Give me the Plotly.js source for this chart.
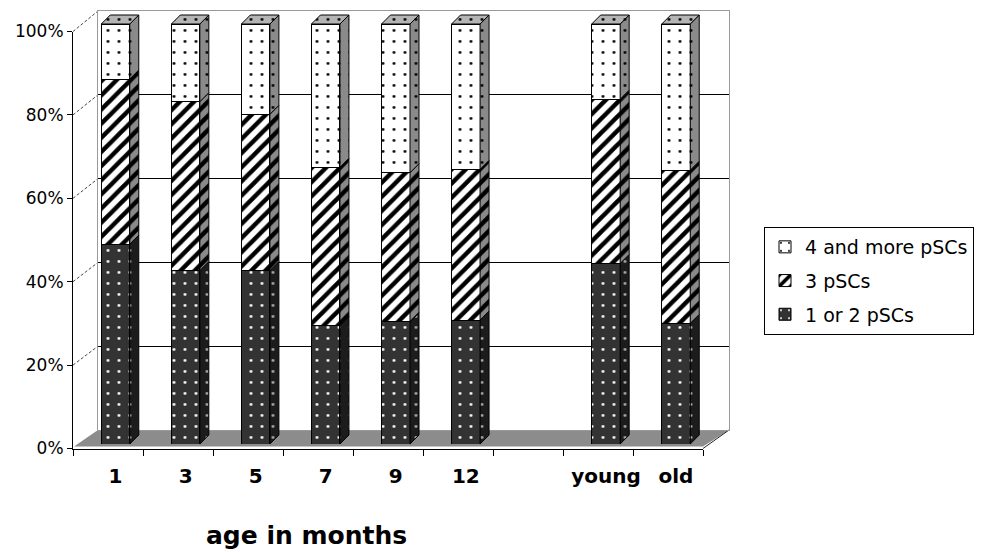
<!DOCTYPE html>
<html>
<head>
<meta charset="utf-8">
<script src="https://cdn.plot.ly/plotly-3.0.1.min.js"></script>
<style>
  html, body { margin: 0; padding: 0; background: #fff; }
  #chart { width: 983px; height: 552px; }
</style>
</head>
<body>
<div id="chart"></div>
<script>
// ---- data -------------------------------------------------------------
const categories = ['1', '3', '5', '7', '9', '12', 'young', 'old'];
// axis slots along the category axis (one empty slot separates the age groups)
const slots = ['1', '3', '5', '7', '9', '12', '', 'young', 'old'];
const seriesNames = ['1 or 2 pSCs', '3 pSCs', '4 and more pSCs'];
const oneOrTwo = [47.6, 41.3, 41.3, 28.2, 29.1, 29.5, 43.0, 28.7];
const three    = [39.3, 40.2, 37.2, 37.7, 35.5, 35.9, 39.1, 36.5];
const fourPlus = [13.1, 18.5, 21.5, 34.1, 35.4, 34.6, 17.9, 34.8];
const yTickVals = [0, 20, 40, 60, 80, 100];
const yTickText = ['0%', '20%', '40%', '60%', '80%', '100%'];
const axisTitle = 'age in months';

// ---- geometry of the pseudo-3D box (pixels) ----------------------------
const W = 983, H = 552;
const fx = v => v / W;
const fy = v => 1 - v / H;
const front = { l: 73, r: 703, t: 31.5, b: 448.5 };   // front axes
const wall  = { l: 98, r: 729, t: 11,   b: 430 };     // back wall
const bars  = { l: 80.5, r: 711, t: 24, b: 444 };     // bar front faces (t = 100 %)
const depth = 9;                                      // bar depth in px
const yMax = 105;                                     // head room for the bar tops

const slotPx = (bars.r - bars.l) / slots.length;
const unitPx = (bars.b - bars.t) / 100;
const ddx = depth / slotPx;
const ddy = depth / unitPx;
const barW = 0.407;

const pos = categories.map(c => slots.indexOf(c));

const FONT = 'DejaVu Sans, Verdana, Arial, sans-serif';

// ---- bar traces ---------------------------------------------------------
const dot = 0.05;
const styles = [
  { color: '#333333', pattern: { shape: '.', bgcolor: '#333333', fgcolor: '#ffffff', size: 11, solidity: dot, fillmode: 'replace' } },
  { color: '#ffffff', pattern: { shape: '/', bgcolor: '#ffffff', fgcolor: '#000000', size: 10, solidity: 0.45, fillmode: 'replace' } },
  { color: '#ffffff', pattern: { shape: '.', bgcolor: '#ffffff', fgcolor: '#000000', size: 11, solidity: dot, fillmode: 'replace' } }
];
const series = [oneOrTwo, three, fourPlus];

const traces = [];
// invisible anchors so the wall and front-axis subplots get drawn
traces.push({ type: 'scatter', x: [], y: [], xaxis: 'x', yaxis: 'y', showlegend: false, hoverinfo: 'skip' });
traces.push({ type: 'scatter', x: [], y: [], xaxis: 'x2', yaxis: 'y2', showlegend: false, hoverinfo: 'skip' });

series.forEach((vals, k) => {
  traces.push({
    type: 'bar', name: seriesNames[k], legendgroup: 'g' + k, legendrank: 10 - k,
    x: pos, y: vals, width: barW,
    xaxis: 'x3', yaxis: 'y3',
    marker: { color: styles[k].color, pattern: styles[k].pattern, line: { color: '#000', width: 1 } },
    hoverinfo: 'skip'
  });
});

// side faces of every stacked segment, and the top faces
const sideFill = [
  { fill: '#1c1c1c', pattern: { shape: '.', bgcolor: '#1c1c1c', fgcolor: '#aaaaaa', size: 11, solidity: dot } },
  { fill: '#8a8a8a', pattern: { shape: '/', bgcolor: '#8a8a8a', fgcolor: '#000000', size: 10, solidity: 0.45 } },
  { fill: '#8a8a8a', pattern: { shape: '.', bgcolor: '#8a8a8a', fgcolor: '#000000', size: 11, solidity: dot } }
];
series.forEach((vals, k) => {
  const xs = [], ys = [];
  vals.forEach((v, i) => {
    let base = 0;
    for (let j = 0; j < k; j++) base += series[j][i];
    const top = base + v;
    const xr = pos[i] + barW / 2;
    xs.push(xr, xr + ddx, xr + ddx, xr, xr, null);
    ys.push(base, base + ddy, top + ddy, top, base, null);
  });
  traces.push({
    type: 'scatter', mode: 'lines', x: xs, y: ys, xaxis: 'x3', yaxis: 'y3',
    fill: 'toself', fillcolor: sideFill[k].fill, fillpattern: sideFill[k].pattern,
    line: { color: '#000', width: 1 }, showlegend: false, hoverinfo: 'skip'
  });
});
{
  const xs = [], ys = [];
  pos.forEach((p, i) => {
    const total = oneOrTwo[i] + three[i] + fourPlus[i];
    const xl = p - barW / 2, xr = p + barW / 2;
    xs.push(xl, xl + ddx, xr + ddx, xr, xl, null);
    ys.push(total, total + ddy, total + ddy, total, total, null);
  });
  traces.push({
    type: 'scatter', mode: 'lines', x: xs, y: ys, xaxis: 'x3', yaxis: 'y3',
    fill: 'toself', fillcolor: '#b4b4b4',
    fillpattern: { shape: '.', bgcolor: '#b4b4b4', fgcolor: '#000', size: 11, solidity: dot },
    line: { color: '#000', width: 1 }, showlegend: false, hoverinfo: 'skip'
  });
}

// ---- box decorations -----------------------------------------------------
const frontY = v => front.b - v * (front.b - front.t) / 100;
const wallY  = v => wall.b  - v * (wall.b  - wall.t)  / 100;

const shapes = [];
// floor
shapes.push({
  type: 'path', xref: 'paper', yref: 'paper', layer: 'below',
  path: `M${fx(front.l + 1)},${fy(front.b - 2)} L${fx(front.r)},${fy(front.b - 2)} L${fx(wall.r)},${fy(wall.b)} L${fx(wall.l)},${fy(wall.b)} Z`,
  fillcolor: '#8c8c8c', line: { width: 0 }
});
// right edge of the floor
shapes.push({
  type: 'line', xref: 'paper', yref: 'paper', layer: 'below',
  x0: fx(front.r), y0: fy(front.b), x1: fx(wall.r), y1: fy(wall.b),
  line: { color: '#222', width: 1 }
});
// left wall grid edges
yTickVals.filter(v => v > 0).forEach(v => {
  shapes.push({
    type: 'line', xref: 'paper', yref: 'paper', layer: 'below',
    x0: fx(front.l), y0: fy(frontY(v)), x1: fx(wall.l), y1: fy(wallY(v)),
    line: { color: '#444', width: 1, dash: '3px,2px' }
  });
});

const hidden = { showgrid: false, zeroline: false, showticklabels: false, ticks: '', showline: false, fixedrange: true };

const layout = {
  width: W, height: H,
  margin: { l: 0, r: 0, t: 0, b: 0, pad: 0 },
  paper_bgcolor: '#ffffff', plot_bgcolor: 'rgba(0,0,0,0)',
  barmode: 'stack', bargap: 0,
  font: { family: FONT, color: '#000' },
  showlegend: true,
  // back wall
  xaxis: Object.assign({}, hidden, {
    domain: [fx(wall.l), fx(wall.r)], range: [0, 1], anchor: 'y',
    showline: true, mirror: true, linecolor: '#9a9a9a', linewidth: 1
  }),
  yaxis: Object.assign({}, hidden, {
    domain: [fy(wall.b), fy(wall.t)], range: [0, 100], anchor: 'x',
    showgrid: true, gridcolor: '#000', gridwidth: 1,
    tickmode: 'array', tickvals: yTickVals.slice(1, -1),
    showline: true, mirror: true, linecolor: '#9a9a9a', linewidth: 1
  }),
  // front axes
  xaxis2: Object.assign({}, hidden, {
    domain: [fx(front.l), fx(front.r)], range: [-0.5, slots.length - 0.5], anchor: 'y2',
    showline: true, linecolor: '#000', linewidth: 1,
    ticks: 'outside', ticklen: 6, tickcolor: '#000', tickwidth: 1,
    tickmode: 'array', tickvals: slots.map((s, i) => i - 0.5).concat([slots.length - 0.5])
  }),
  yaxis2: Object.assign({}, hidden, {
    domain: [fy(front.b), fy(front.t)], range: [0, 100], anchor: 'x2',
    showline: true, linecolor: '#000', linewidth: 1,
    ticks: 'outside', ticklen: 5, tickcolor: '#000', tickwidth: 1,
    showticklabels: true, tickmode: 'array', tickvals: yTickVals, ticktext: yTickText,
    tickfont: { family: FONT, size: 17, color: '#000' }
  }),
  // bars
  xaxis3: Object.assign({}, hidden, {
    domain: [fx(bars.l), fx(bars.r)], range: [-0.5, slots.length - 0.5], anchor: 'y3',
    showticklabels: true, tickmode: 'array', tickvals: pos, ticktext: categories,
    ticks: 'outside', ticklen: 14, tickcolor: 'rgba(0,0,0,0)',
    tickfont: { family: FONT, size: 20, color: '#000', weight: 'bold' }
  }),
  yaxis3: Object.assign({}, hidden, {
    domain: [fy(bars.b), fy(bars.b - (bars.b - bars.t) * yMax / 100)], range: [0, yMax], anchor: 'x3'
  }),
  legend: {
    x: fx(764), y: fy(227), xanchor: 'left', yanchor: 'top',
    bgcolor: '#ffffff', bordercolor: '#000', borderwidth: 1,
    font: { family: FONT, size: 19, color: '#000' },
    traceorder: 'grouped', tracegroupgap: 6, itemwidth: 30
  },
  annotations: [{
    text: axisTitle, xref: 'paper', yref: 'paper', x: fx(306), y: fy(535),
    xanchor: 'center', yanchor: 'middle', showarrow: false,
    font: { family: FONT, size: 25, color: '#000', weight: 'bold' }
  }],
  shapes: shapes
};

Plotly.newPlot('chart', traces, layout, { staticPlot: true, displayModeBar: false });
</script>
</body>
</html>
